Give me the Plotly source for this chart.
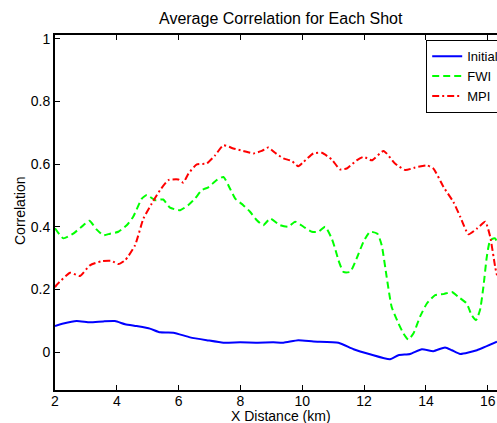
import plotly.graph_objects as go

initial_x = [2.0, 2.27, 2.70, 3.13, 3.56, 3.94, 4.27, 4.64, 5.07, 5.40, 5.83, 6.37, 6.91, 7.45, 7.99, 8.53,
             9.06, 9.39, 9.87, 10.36, 11.17, 11.66, 12.19, 12.84, 13.11, 13.49, 13.87, 14.24, 14.62, 14.84,
             15.11, 15.65, 16.30]
initial_y = [0.083, 0.091, 0.099, 0.095, 0.098, 0.099, 0.089, 0.083, 0.075, 0.063, 0.062, 0.047, 0.038, 0.030,
             0.031, 0.030, 0.031, 0.030, 0.038, 0.034, 0.030, 0.009, -0.007, -0.023, -0.010, -0.006, 0.009,
             0.003, 0.015, 0.006, -0.006, 0.006, 0.033]

fwi_x = [2.0, 2.27, 2.59, 2.86, 3.11, 3.35, 3.56, 3.78, 4.05, 4.32, 4.53, 4.81, 4.97, 5.24, 5.50, 5.72, 6.05,
         6.31, 6.53, 6.75, 6.96, 7.23, 7.45, 7.66, 7.83, 8.09, 8.31, 8.53, 8.74, 8.96, 9.28, 9.55, 9.77, 10.04,
         10.31, 10.52, 10.74, 10.95, 11.06, 11.17, 11.33, 11.55, 11.76, 11.98, 12.19, 12.43, 12.57, 12.73,
         12.89, 13.11, 13.27, 13.43, 13.60, 13.81, 14.03, 14.30, 14.57, 14.84, 15.05, 15.32, 15.48, 15.62,
         15.75, 15.86, 15.97, 16.08, 16.24, 16.30]
fwi_y = [0.395, 0.363, 0.378, 0.400, 0.419, 0.391, 0.373, 0.378, 0.384, 0.405, 0.432, 0.490, 0.501, 0.485,
         0.487, 0.461, 0.453, 0.469, 0.490, 0.517, 0.526, 0.549, 0.559, 0.522, 0.490, 0.469, 0.448, 0.421,
         0.405, 0.426, 0.405, 0.400, 0.416, 0.400, 0.384, 0.384, 0.400, 0.363, 0.331, 0.293, 0.256, 0.256,
         0.299, 0.352, 0.384, 0.378, 0.341, 0.240, 0.145, 0.092, 0.060, 0.040, 0.060, 0.113, 0.155, 0.182,
         0.185, 0.192, 0.176, 0.155, 0.118, 0.102, 0.134, 0.208, 0.304, 0.357, 0.363, 0.350]

mpi_x = [2.0, 2.05, 2.49, 2.81, 3.13, 3.51, 3.83, 4.05, 4.27, 4.59, 4.86, 5.13, 5.40, 5.67, 5.99, 6.15, 6.32,
         6.59, 6.91, 7.18, 7.45, 7.77, 8.09, 8.42, 8.69, 8.90, 9.12, 9.39, 9.66, 9.87, 10.04, 10.36, 10.63,
         10.95, 11.22, 11.44, 11.76, 11.98, 12.25, 12.63, 13.00, 13.33, 13.65, 14.03, 14.24, 14.57, 14.89,
         15.11, 15.38, 15.65, 15.92, 16.08, 16.24, 16.30]
mpi_y = [0.207, 0.214, 0.253, 0.243, 0.277, 0.290, 0.291, 0.281, 0.293, 0.341, 0.426, 0.474, 0.517, 0.549,
         0.551, 0.541, 0.570, 0.599, 0.602, 0.628, 0.660, 0.650, 0.642, 0.634, 0.642, 0.653, 0.636, 0.618,
         0.610, 0.593, 0.607, 0.634, 0.636, 0.615, 0.583, 0.586, 0.612, 0.623, 0.612, 0.642, 0.602, 0.581,
         0.589, 0.596, 0.586, 0.527, 0.479, 0.432, 0.376, 0.394, 0.416, 0.368, 0.272, 0.245]

x_ticks = [2, 4, 6, 8, 10, 12, 14, 16]
y_ticks = [0, 0.2, 0.4, 0.6, 0.8, 1]
y_tick_text = ["0", "0.2", "0.4", "0.6", "0.8", "1"]

FONT = "Liberation Sans, Arial, Helvetica, sans-serif"

PW, PH = 442, 355  # plot area size in px (55..497, 35..390)

fig = go.Figure()
fig.add_trace(go.Scatter(x=initial_x, y=initial_y, name="Initial", mode="lines",
                         line=dict(color="#0000ff", width=2, shape="spline", smoothing=0.5)))
fig.add_trace(go.Scatter(x=fwi_x, y=fwi_y, name="FWI", mode="lines",
                         line=dict(color="#00ff00", width=2, dash="7px,4px", shape="spline", smoothing=0.5)))
fig.add_trace(go.Scatter(x=mpi_x, y=mpi_y, name="MPI", mode="lines",
                         line=dict(color="#ff0000", width=2, dash="7px,3px,2px,3px", shape="spline", smoothing=0.5)))

fig.update_layout(
    width=497, height=423,
    margin=dict(l=55, r=0, t=35, b=33, autoexpand=False),
    paper_bgcolor="white", plot_bgcolor="white",
    font=dict(family=FONT, size=14, color="black"),
    showlegend=True,
    legend=dict(x=(426 - 55) / PW, y=1 - (40 - 35) / PH, xanchor="left", yanchor="top",
                bgcolor="white", bordercolor="black", borderwidth=1.2,
                font=dict(family=FONT, size=13, color="black"),
                tracegroupgap=0),
    annotations=[
        dict(text="Average Correlation for Each Shot", x=(281 - 55) / PW, y=(390 - 18) / PH,
             xref="paper", yref="paper", showarrow=False, font=dict(size=16, family=FONT, color="black"),
             xanchor="center", yanchor="middle"),
        dict(text="X Distance (km)", x=(281 - 55) / PW, y=(390 - 416) / PH,
             xref="paper", yref="paper", showarrow=False, font=dict(size=14, family=FONT, color="black"),
             xanchor="center", yanchor="middle"),
        dict(text="Correlation", x=(20 - 55) / PW, y=(390 - 211) / PH, textangle=-90,
             xref="paper", yref="paper", showarrow=False, font=dict(size=14, family=FONT, color="black"),
             xanchor="center", yanchor="middle"),
    ],
)
fig.update_xaxes(range=[2, 16.3], tickvals=x_ticks, ticks="inside", ticklen=5, tickwidth=1,
                 tickcolor="black", showline=True, linecolor="black", linewidth=1.5, mirror="ticks",
                 showgrid=False, zeroline=False, tickfont=dict(size=14), ticklabelstandoff=-3)
fig.update_yaxes(range=[-0.121, 1.012], tickvals=y_ticks, ticktext=y_tick_text, ticks="inside", ticklen=5,
                 tickwidth=1, tickcolor="black", showline=True, linecolor="black", linewidth=2,
                 showgrid=False, zeroline=False, tickfont=dict(size=14))

fig.write_html("out.html", config={"displayModeBar": False},
               post_script="document.body.style.margin='0';document.body.style.overflow='hidden';")
